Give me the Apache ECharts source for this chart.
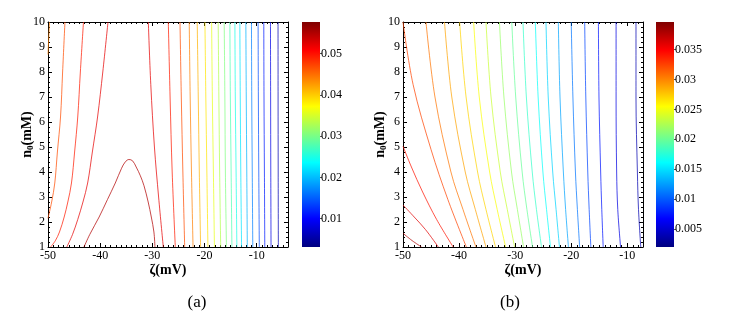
<!DOCTYPE html>
<html>
<head>
<meta charset="utf-8">
<script src="https://cdn.jsdelivr.net/npm/echarts@6/dist/echarts.min.js"></script>
<style>
html,body{margin:0;padding:0;background:#fff}
#c{width:742px;height:336px}
</style>
</head>
<body>
<div id="c"></div>
<script>
// ---- panel (a) ----
const zetaRangeA = [-50, -4];
const colorRangeA = [0.0031, 0.0577];
const colorTicksA = [0.01, 0.02, 0.03, 0.04, 0.05];
// contour levels of panel (a)
const levelsA = [0.0058, 0.0086, 0.0113, 0.0140, 0.0168, 0.0195, 0.0222, 0.0249, 0.0277, 0.0304,
                 0.0331, 0.0359, 0.0386, 0.0413, 0.0441, 0.0468, 0.0495, 0.0522, 0.0550];
// [level number, [[zeta, n0], ...]]
const pathsA = [
  [19, [[-43.1,1],[-42,1.5],[-40.2,2.2],[-38.6,2.9],[-37.1,3.56],[-35.9,4.15],[-35.2,4.4],[-34.5,4.5],[-33.8,4.45],[-33.1,4.2],[-32.3,3.85],[-31.6,3.45],[-30.8,2.8],[-30.2,2.2],[-29.7,1.6],[-29.5,1]]],
  [18, [[-38.5,10],[-39.5,8],[-40.5,6.2],[-41.5,4.8],[-42.4,3.56],[-43.3,2.8],[-44.3,2.1],[-45.3,1.5],[-46.4,1]]],
  [17, [[-43.2,10],[-43.8,8],[-44.3,6.2],[-44.9,4.8],[-45.5,3.56],[-46.2,2.8],[-46.9,2.2],[-47.8,1.6],[-48.6,1.25],[-49.5,1]]],
  [16, [[-46.75,10],[-47.2,8],[-47.6,6.2],[-48.2,4.8],[-48.7,3.56],[-49.3,2.8],[-50,2.15]]],
  [15, [[-49.7,10],[-49.85,9.4],[-50,8.7]]],
  [18, [[-30.77,10],[-30.3,7.5],[-29.6,5],[-28.8,3],[-27.9,1]]],
  [17, [[-26.94,10],[-26.6,7],[-26.2,4],[-25.6,1]]],
  [16, [[-24.7,10],[-24.45,7],[-24.15,4],[-23.8,1]]],
  [15, [[-22.93,10],[-22.75,7],[-22.5,4],[-22.2,1]]],
  [14, [[-21.4,10],[-21.2,7],[-21.0,4],[-20.75,1]]],
  [13, [[-19.92,10],[-19.75,7],[-19.55,4],[-19.35,1]]],
  [12, [[-18.64,10],[-18.5,7],[-18.3,4],[-18.1,1]]],
  [11, [[-17.38,10],[-17.25,7],[-17.1,4],[-16.9,1]]],
  [10, [[-16.23,10],[-16.1,7],[-16.0,4],[-15.8,1]]],
  [9,  [[-15.14,10],[-15.05,7],[-14.9,4],[-14.75,1]]],
  [8,  [[-14.18,10],[-14.1,7],[-13.95,4],[-13.8,1]]],
  [7,  [[-13.23,10],[-13.15,7],[-13.05,4],[-12.9,1]]],
  [6,  [[-12.08,10],[-12.0,7],[-11.9,4],[-11.8,1]]],
  [5,  [[-11.0,10],[-10.95,7],[-10.85,4],[-10.75,1]]],
  [4,  [[-9.73,10],[-9.68,7],[-9.6,4],[-9.5,1]]],
  [3,  [[-8.64,10],[-8.6,7],[-8.52,4],[-8.45,1]]],
  [2,  [[-7.36,10],[-7.33,7],[-7.3,4],[-7.25,1]]],
  [1,  [[-5.91,10],[-5.9,7],[-5.88,4],[-5.85,1]]]
];

// ---- panel (b) ----
const zetaRangeB = [-50, -7.2];
const colorRangeB = [0.002, 0.0396];
const colorTicksB = [0.005, 0.01, 0.015, 0.02, 0.025, 0.03, 0.035];
const levelsB = [0.0038, 0.0056, 0.0074, 0.0092, 0.0110, 0.0127, 0.0145, 0.0163, 0.0181, 0.0199,
                 0.0217, 0.0235, 0.0253, 0.0271, 0.0289, 0.0306, 0.0324, 0.0342, 0.0360, 0.0378];
const pathsB = [
  [20, [[-50,1.55],[-48.4,1.26],[-46.7,1]]],
  [19, [[-50,2.68],[-48,2.2],[-46,1.7],[-43.7,1]]],
  [18, [[-50,5.03],[-48.5,4.2],[-46.5,3.2],[-44,2.1],[-41.05,1]]],
  [17, [[-50,10],[-48.2,7.5],[-45,4.9],[-42,2.9],[-38.7,1]]],
  [16, [[-45.9,10],[-44.3,7],[-41.45,4],[-39.3,2.5],[-37.0,1]]],
  [15, [[-42.6,10],[-41.3,7],[-38.9,4],[-37.1,2.5],[-35.2,1]]],
  [14, [[-39.9,10],[-38.75,7],[-36.7,4],[-35.2,2.5],[-33.5,1]]],
  [13, [[-37.4,10],[-36.4,7],[-34.55,4],[-33.2,2.5],[-31.7,1]]],
  [12, [[-35.2,10],[-34.3,7],[-32.65,4],[-31.4,2.5],[-30.1,1]]],
  [11, [[-32.8,10],[-32.0,7],[-30.65,4],[-29.6,2.5],[-28.5,1]]],
  [10, [[-30.6,10],[-29.9,7],[-28.75,4],[-27.9,2.5],[-26.9,1]]],
  [9,  [[-28.6,10],[-28.0,7],[-26.95,4],[-26.2,2.5],[-25.3,1]]],
  [8,  [[-26.4,10],[-25.9,7],[-25.05,4],[-24.4,2.5],[-23.7,1]]],
  [7,  [[-24.5,10],[-24.1,7],[-23.3,4],[-22.7,2.5],[-22.1,1]]],
  [6,  [[-22.3,10],[-22.0,7],[-21.4,4],[-21.0,2.5],[-20.5,1]]],
  [5,  [[-20.0,10],[-19.7,7],[-19.25,4],[-18.9,2.5],[-18.5,1]]],
  [4,  [[-17.6,10],[-17.4,7],[-17.05,4],[-16.8,2.5],[-16.5,1]]],
  [3,  [[-15.15,10],[-15.05,7],[-14.75,4],[-14.55,2.5],[-14.3,1]]],
  [2,  [[-12.0,10],[-12.0,7],[-11.9,4],[-11.7,2.5],[-11.2,1]]],
  [1,  [[-8.45,10],[-8.45,7],[-8.2,4],[-8.0,2.5],[-7.6,1]]]
];

const nRange = [1, 10];
const serif = "'Liberation Serif','Times New Roman',serif";

// jet colormap
function jet(t) {
  const c = x => Math.max(0, Math.min(1, x));
  const r = c(1.5 - Math.abs(4 * t - 3));
  const g = c(1.5 - Math.abs(4 * t - 2));
  const b = c(1.5 - Math.abs(4 * t - 1));
  return 'rgb(' + Math.round(r * 255) + ',' + Math.round(g * 255) + ',' + Math.round(b * 255) + ')';
}
const jetStops = [
  {offset: 0, color: '#00007f'}, {offset: 0.125, color: '#0000ff'},
  {offset: 0.375, color: '#00ffff'}, {offset: 0.625, color: '#ffff00'},
  {offset: 0.875, color: '#ff0000'}, {offset: 1, color: '#7f0000'}
];

const grids = [
  {left: 48, top: 22, width: 240, height: 225},
  {left: 302, top: 22, width: 18, height: 225},
  {left: 403, top: 22, width: 240, height: 225},
  {left: 656, top: 22, width: 18, height: 225}
];

const black = {color: '#000', width: 1};
function mainX(grid, range, name) {
  return {
    type: 'value', gridIndex: grid, min: range[0], max: range[1], interval: 10,
    axisLine: {show: true, onZero: false, lineStyle: black},
    axisTick: {show: true, inside: true, length: 4, lineStyle: black},
    minorTick: {show: true, splitNumber: 10, length: 2, lineStyle: black},
    splitLine: {show: false},
    axisLabel: {show: true, showMaxLabel: false, color: '#000', fontFamily: serif, fontSize: 12, margin: 3},
    name: name, nameLocation: 'middle', nameGap: 16, nameMoveOverlap: false,
    nameTextStyle: {color: '#000', fontFamily: serif, fontSize: 14, fontWeight: 'bold'}
  };
}
function topX(grid, range) {
  return {
    type: 'value', gridIndex: grid, position: 'top', min: range[0], max: range[1], interval: 10,
    axisLine: {show: true, onZero: false, lineStyle: black},
    axisTick: {show: true, inside: true, length: 4, lineStyle: black},
    minorTick: {show: true, splitNumber: 10, length: 2, lineStyle: black},
    splitLine: {show: false}, axisLabel: {show: false}
  };
}
function mainY(grid, gap) {
  return {
    type: 'value', gridIndex: grid, min: nRange[0], max: nRange[1], interval: 1,
    axisLine: {show: true, onZero: false, lineStyle: black},
    axisTick: {show: true, inside: true, length: 4, lineStyle: black},
    minorTick: {show: true, splitNumber: 5, length: 2, lineStyle: black},
    splitLine: {show: false},
    axisLabel: {color: '#000', fontFamily: serif, fontSize: 12, margin: 3},
    name: '{n|n}{s|0}{n|(mM)}', nameLocation: 'middle', nameGap: gap, nameRotate: 90, nameMoveOverlap: false,
    nameTextStyle: {
      rich: {
        n: {fontFamily: serif, fontSize: 14, fontWeight: 'bold', color: '#000', lineHeight: 16},
        s: {fontFamily: serif, fontSize: 9, fontWeight: 'bold', color: '#000', lineHeight: 16, verticalAlign: 'bottom'}
      }
    }
  };
}
function rightY(grid) {
  return {
    type: 'value', gridIndex: grid, position: 'right', min: nRange[0], max: nRange[1], interval: 1,
    axisLine: {show: true, onZero: false, lineStyle: black},
    axisTick: {show: true, inside: true, length: 4, lineStyle: black},
    minorTick: {show: true, splitNumber: 5, length: 2, lineStyle: black},
    splitLine: {show: false}, axisLabel: {show: false}
  };
}
function barX(grid) {
  return {type: 'category', gridIndex: grid, data: ['c'], show: false};
}
function barY(grid, range, ticks) {
  return {
    type: 'value', gridIndex: grid, position: 'right', min: range[0], max: range[1],
    axisLine: {show: false},
    axisTick: {show: true, length: 2, customValues: ticks, lineStyle: {color: '#555'}},
    splitLine: {show: false},
    axisLabel: {customValues: ticks, color: '#000', fontFamily: serif, fontSize: 12, margin: 1}
  };
}

const series = [];
function addContours(paths, levels, range, axis) {
  paths.forEach(function (p) {
    const t = (levels[p[0] - 1] - range[0]) / (range[1] - range[0]);
    series.push({
      type: 'line', xAxisIndex: axis, yAxisIndex: axis, data: p[1],
      symbol: 'none', smooth: 0.35, clip: true, silent: true,
      lineStyle: {width: 1, color: jet(t), opacity: 0.72}
    });
  });
}
addContours(pathsA, levelsA, colorRangeA, 0);
addContours(pathsB, levelsB, colorRangeB, 3);

function addColorbar(range, axis) {
  series.push({
    type: 'bar', xAxisIndex: axis, yAxisIndex: axis, stack: 'cb' + axis, data: [range[0]],
    barWidth: '100%', itemStyle: {color: 'rgba(0,0,0,0)'}, silent: true
  });
  series.push({
    type: 'bar', xAxisIndex: axis, yAxisIndex: axis, stack: 'cb' + axis, data: [range[1] - range[0]],
    barWidth: '100%', silent: true,
    itemStyle: {color: new echarts.graphic.LinearGradient(0, 1, 0, 0, jetStops)}
  });
}
addColorbar(colorRangeA, 2);
addColorbar(colorRangeB, 5);

const chart = echarts.init(document.getElementById('c'), null, {renderer: 'canvas'});
chart.setOption({
  animation: false,
  backgroundColor: '#fff',
  grid: grids,
  xAxis: [mainX(0, zetaRangeA, 'ζ(mV)'), topX(0, zetaRangeA), barX(1),
          mainX(2, zetaRangeB, 'ζ(mV)'), topX(2, zetaRangeB), barX(3)],
  yAxis: [mainY(0, 13), rightY(0), barY(1, colorRangeA, colorTicksA),
          mainY(2, 15), rightY(2), barY(3, colorRangeB, colorTicksB)],
  graphic: [
    {type: 'text', x: 197, y: 303, style: {text: '(a)', font: '17px ' + serif, fill: '#000', textAlign: 'center', textVerticalAlign: 'middle'}},
    {type: 'text', x: 510, y: 303, style: {text: '(b)', font: '17px ' + serif, fill: '#000', textAlign: 'center', textVerticalAlign: 'middle'}}
  ],
  series: series
});
</script>
</body>
</html>
